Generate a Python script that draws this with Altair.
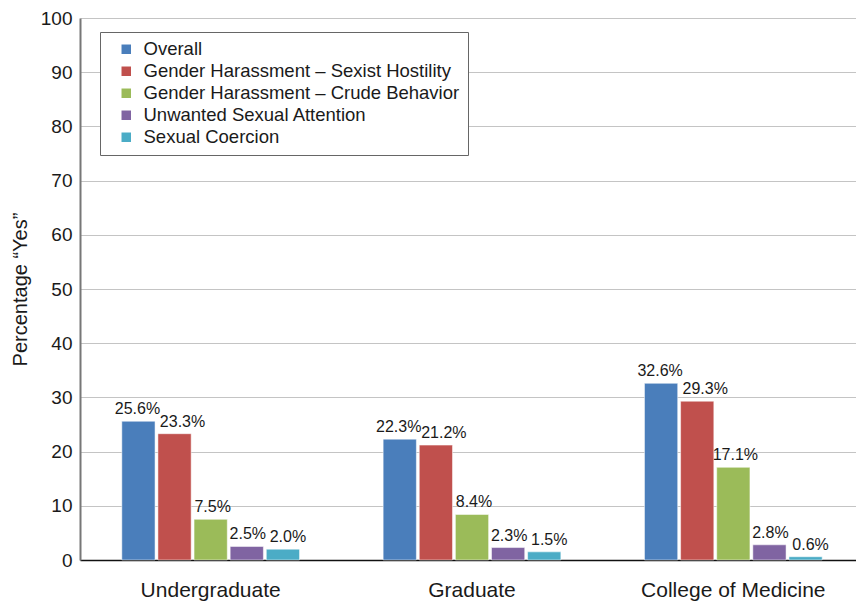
import altair as alt
import pandas as pd

groups = ["Undergraduate", "Graduate", "College of Medicine"]
series = [
    "Overall",
    "Gender Harassment \u2013 Sexist Hostility",
    "Gender Harassment \u2013 Crude Behavior",
    "Unwanted Sexual Attention",
    "Sexual Coercion",
]
colors = ["#4a7ebb", "#c0504d", "#9bbb59", "#8064a2", "#4bacc6"]
values = {
    "Undergraduate": [25.6, 23.3, 7.5, 2.5, 2.0],
    "Graduate": [22.3, 21.2, 8.4, 2.3, 1.5],
    "College of Medicine": [32.6, 29.3, 17.1, 2.8, 0.6],
}
# horizontal nudge of each series' value label (style only)
label_dx = [-1, 8, 2, 1, 5]

rows = []
for g in groups:
    for s, v in zip(series, values[g]):
        rows.append({"group": g, "series": s, "value": v, "label": f"{v:.1f}%"})
df = pd.DataFrame(rows)

FONT = "Liberation Sans"

x = alt.X(
    "group:N",
    sort=groups,
    scale=alt.Scale(paddingInner=0.32, paddingOuter=0.16),
    axis=alt.Axis(
        title=None,
        labelAngle=0,
        labelFontSize=21,
        labelPadding=19,
        labelLimit=400,
        labelColor="#1a1a1a",
        ticks=False,
        domainColor="#111111",
        domainWidth=1.5,
        grid=False,
    ),
)
xoff = alt.XOffset(
    "series:N",
    sort=series,
    scale=alt.Scale(paddingInner=0.08, paddingOuter=0.0),
)

bars = alt.Chart(df).mark_bar(stroke="#ffffff", strokeWidth=1, strokeOpacity=0.5).encode(
    x=x,
    xOffset=xoff,
    y=alt.Y(
        "value:Q",
        scale=alt.Scale(domain=[0, 100]),
        axis=alt.Axis(
            title="Percentage \u201cYes\u201d",
            titleFontSize=20,
            titleFontWeight="normal",
            titleColor="#1a1a1a",
            titlePadding=10,
            values=list(range(0, 101, 10)),
            labelFontSize=19,
            labelColor="#1a1a1a",
            labelPadding=8,
            ticks=False,
            domainColor="#777777",
            domainWidth=2,
            gridColor="#c4c4c4",
            gridWidth=1,
        ),
    ),
    fill=alt.Fill(
        "series:N",
        sort=series,
        scale=alt.Scale(domain=series, range=colors),
        legend=alt.Legend(
            title=None,
            orient="none",
            legendX=20,
            legendY=14,
            symbolType="square",
            symbolSize=90,
            symbolStrokeWidth=0,
            symbolOffset=9,
            labelFontSize=18.5,
            labelColor="#1a1a1a",
            labelOffset=8,
            rowPadding=3,
            padding=8,
            strokeColor="#666666",
            fillColor="white",
            labelLimit=500,
        ),
    ),
)

text_layers = []
for s, dx in zip(series, label_dx):
    text_layers.append(
        alt.Chart(df)
        .transform_filter(alt.datum.series == s)
        .mark_text(baseline="bottom", dy=-4, dx=dx, fontSize=16, color="#1a1a1a")
        .encode(x=x, xOffset=xoff, y="value:Q", text="label:N")
    )

chart = (
    alt.layer(bars, *text_layers)
    .properties(
        width=784,
        height=542,
        autosize=alt.AutoSizeParams(type="none"),
        padding={"left": 72, "top": 10, "right": -8, "bottom": 43},
    )
    .configure(font=FONT)
    .configure_view(stroke=None)
)

chart.save("out.html", embed_options={"renderer": "svg", "actions": False})
